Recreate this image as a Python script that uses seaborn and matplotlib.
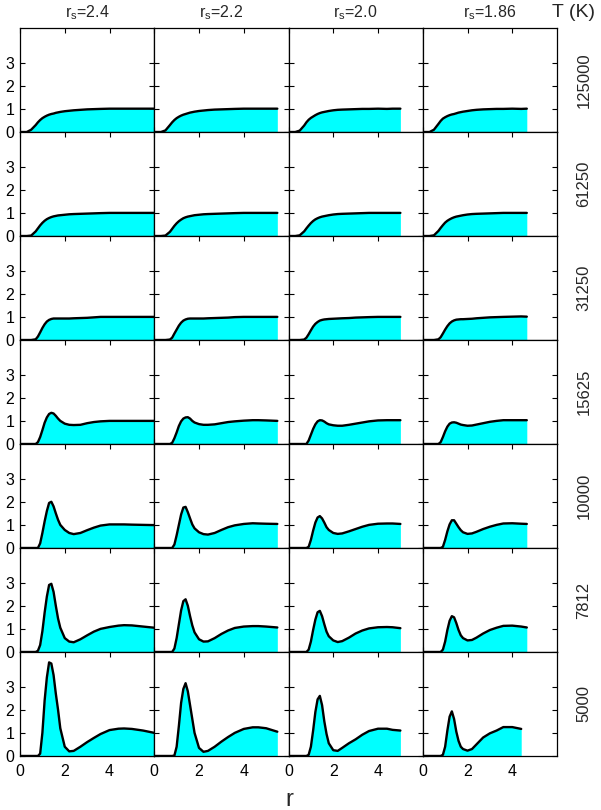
import seaborn as sns
import numpy as np
import matplotlib.pyplot as plt

# r grid shared by all panels; each panel's g(r) list is cut at its box size
r_grid = [0.0, 0.3, 0.5, 0.7, 0.8, 0.9, 1.0, 1.1, 1.2, 1.3, 1.4, 1.5, 1.6, 1.7,
          1.8, 2.0, 2.2, 2.4, 2.7, 3.0, 3.3, 3.6, 4.0, 4.4, 4.65, 5.0, 5.5, 6.0]

rs_labels = ['2.4', '2.2', '2.0', '1.86']
temps = ['125000', '61250', '31250', '15625', '10000', '7812', '5000']

g_125000 = [
    [0, 0, 0.1, 0.3, 0.42, 0.52, 0.6, 0.66, 0.71, 0.75, 0.78, 0.8, 0.83, 0.85, 0.87, 0.9, 0.92, 0.94, 0.96, 0.98, 0.99, 1.0, 1.01, 1.01, 1.01, 1.01, 1.01, 1.01],
    [0, 0, 0.07, 0.3, 0.42, 0.52, 0.6, 0.66, 0.71, 0.75, 0.78, 0.81, 0.84, 0.86, 0.88, 0.91, 0.93, 0.95, 0.97, 0.98, 0.99, 1.0, 1.01, 1.01, 1.01, 1.01, 1.01],
    [0, 0, 0.06, 0.28, 0.42, 0.53, 0.61, 0.67, 0.73, 0.78, 0.82, 0.85, 0.87, 0.89, 0.91, 0.94, 0.96, 0.97, 0.98, 0.99, 1.0, 1.0, 1.01, 1.0, 1.01, 1.01],
    [0, 0, 0.1, 0.35, 0.48, 0.58, 0.64, 0.69, 0.73, 0.76, 0.78, 0.81, 0.84, 0.86, 0.88, 0.91, 0.94, 0.96, 0.98, 0.99, 1.0, 1.0, 1.01, 1.0, 1.01],
]
g_61250 = [
    [0, 0, 0.02, 0.2, 0.33, 0.46, 0.57, 0.66, 0.73, 0.78, 0.82, 0.85, 0.87, 0.89, 0.9, 0.92, 0.94, 0.95, 0.96, 0.97, 0.98, 0.99, 1.0, 1.0, 1.0, 1.0, 1.0, 1.0],
    [0, 0, 0.02, 0.18, 0.31, 0.44, 0.55, 0.64, 0.71, 0.77, 0.81, 0.84, 0.86, 0.88, 0.9, 0.92, 0.94, 0.95, 0.96, 0.97, 0.98, 0.99, 1.0, 1.0, 1.0, 1.0, 1.0],
    [0, 0, 0.03, 0.2, 0.33, 0.45, 0.56, 0.65, 0.72, 0.77, 0.81, 0.84, 0.86, 0.88, 0.9, 0.93, 0.95, 0.96, 0.97, 0.98, 0.99, 1.0, 1.0, 1.0, 1.0, 1.0],
    [0, 0, 0.03, 0.22, 0.35, 0.47, 0.58, 0.66, 0.72, 0.77, 0.81, 0.84, 0.86, 0.88, 0.9, 0.93, 0.95, 0.96, 0.97, 0.98, 0.99, 1.0, 1.0, 1.0, 1.0],
]
g_31250 = [
    [0, 0, 0, 0.03, 0.15, 0.33, 0.52, 0.68, 0.8, 0.87, 0.91, 0.93, 0.93, 0.93, 0.93, 0.93, 0.93, 0.94, 0.95, 0.96, 0.98, 1.0, 1.0, 1.0, 1.0, 1.0, 1.0, 1.0],
    [0, 0, 0, 0.02, 0.1, 0.28, 0.45, 0.62, 0.75, 0.84, 0.89, 0.92, 0.93, 0.93, 0.93, 0.93, 0.93, 0.94, 0.95, 0.96, 0.97, 0.99, 1.0, 1.0, 1.0, 1.0, 1.0],
    [0, 0, 0, 0.02, 0.1, 0.25, 0.42, 0.58, 0.7, 0.78, 0.84, 0.87, 0.89, 0.9, 0.91, 0.92, 0.93, 0.94, 0.95, 0.97, 0.98, 0.99, 1.0, 1.0, 1.0, 1.0],
    [0, 0, 0, 0.03, 0.12, 0.28, 0.45, 0.6, 0.72, 0.8, 0.85, 0.88, 0.89, 0.9, 0.9, 0.91, 0.92, 0.94, 0.96, 0.98, 0.99, 1.0, 1.01, 1.02, 1.01],
]
g_15625 = [
    [0, 0, 0, 0, 0.08, 0.3, 0.6, 0.92, 1.15, 1.3, 1.35, 1.32, 1.22, 1.1, 1.0, 0.88, 0.83, 0.82, 0.83, 0.9, 0.95, 0.98, 1.0, 1.0, 1.0, 1.0, 1.0, 1.0],
    [0, 0, 0, 0, 0.05, 0.25, 0.5, 0.78, 0.98, 1.1, 1.15, 1.16, 1.1, 1.0, 0.93, 0.86, 0.83, 0.83, 0.85, 0.9, 0.95, 0.98, 1.01, 1.03, 1.03, 1.02, 1.0],
    [0, 0, 0, 0, 0, 0.15, 0.4, 0.65, 0.85, 0.98, 1.03, 1.02, 0.97, 0.9, 0.85, 0.81, 0.79, 0.79, 0.83, 0.88, 0.93, 0.98, 1.02, 1.03, 1.03, 1.03],
    [0, 0, 0, 0, 0.08, 0.3, 0.55, 0.75, 0.88, 0.93, 0.94, 0.92, 0.88, 0.84, 0.82, 0.79, 0.8, 0.84, 0.9, 0.96, 1.0, 1.03, 1.03, 1.03, 1.03],
]
g_10000 = [
    [0, 0, 0, 0, 0, 0.2, 0.65, 1.15, 1.6, 1.95, 2.0, 1.8, 1.5, 1.22, 1.0, 0.78, 0.65, 0.6, 0.65, 0.77, 0.88, 0.97, 1.02, 1.02, 1.02, 1.01, 1.0, 0.99],
    [0, 0, 0, 0, 0, 0.15, 0.55, 1.0, 1.45, 1.75, 1.78, 1.55, 1.28, 1.02, 0.85, 0.68, 0.6, 0.58, 0.65, 0.78, 0.9, 0.98, 1.04, 1.07, 1.06, 1.05, 1.04],
    [0, 0, 0, 0, 0, 0.05, 0.35, 0.75, 1.1, 1.32, 1.38, 1.28, 1.1, 0.9, 0.78, 0.65, 0.61, 0.63, 0.72, 0.82, 0.92, 1.0, 1.05, 1.06, 1.06, 1.04],
    [0, 0, 0, 0, 0, 0.05, 0.35, 0.72, 1.02, 1.2, 1.2, 1.05, 0.9, 0.77, 0.68, 0.61, 0.63, 0.7, 0.82, 0.92, 1.0, 1.06, 1.07, 1.05, 1.04],
]
g_7812 = [
    [0, 0, 0, 0, 0.05, 0.3, 0.9, 1.7, 2.4, 2.9, 2.95, 2.6, 2.0, 1.45, 1.05, 0.6, 0.45, 0.42, 0.55, 0.72, 0.88, 1.0, 1.08, 1.14, 1.16, 1.15, 1.1, 1.05],
    [0, 0, 0, 0, 0, 0.15, 0.6, 1.2, 1.8, 2.2, 2.28, 2.0, 1.55, 1.15, 0.85, 0.55, 0.45, 0.46, 0.6, 0.78, 0.93, 1.04, 1.1, 1.12, 1.12, 1.1, 1.06],
    [0, 0, 0, 0, 0, 0.1, 0.45, 0.95, 1.4, 1.72, 1.78, 1.55, 1.2, 0.88, 0.68, 0.5, 0.43, 0.47, 0.62, 0.8, 0.93, 1.02, 1.07, 1.08, 1.07, 1.03],
    [0, 0, 0, 0, 0, 0.1, 0.45, 0.95, 1.35, 1.55, 1.5, 1.25, 0.95, 0.72, 0.6, 0.5, 0.52, 0.62, 0.8, 0.95, 1.05, 1.13, 1.14, 1.1, 1.06],
]
g_5000 = [
    [0, 0, 0, 0, 0, 0.1, 1.0, 2.4, 3.4, 4.05, 4.0, 3.5, 2.7, 2.0, 1.2, 0.4, 0.2, 0.22, 0.4, 0.6, 0.78, 0.95, 1.12, 1.18, 1.19, 1.17, 1.1, 1.0],
    [0, 0, 0, 0, 0, 0.02, 0.4, 1.3, 2.3, 2.9, 3.15, 2.8, 2.2, 1.6, 1.0, 0.35, 0.18, 0.22, 0.4, 0.62, 0.82, 1.0, 1.17, 1.24, 1.24, 1.2, 1.05],
    [0, 0, 0, 0, 0, 0.05, 0.4, 1.1, 1.9, 2.45, 2.6, 2.2, 1.5, 0.95, 0.55, 0.25, 0.22, 0.35, 0.55, 0.72, 0.92, 1.08, 1.18, 1.18, 1.13, 1.1],
    [0, 0, 0, 0, 0, 0.05, 0.4, 1.1, 1.7, 1.93, 1.6, 1.05, 0.65, 0.4, 0.3, 0.23, 0.3, 0.5, 0.8, 0.98, 1.1, 1.25, 1.25, 1.17],
]

g_rows = [g_125000, g_61250, g_31250, g_15625, g_10000, g_7812, g_5000]

sns.set_style('ticks', {'xtick.direction': 'in', 'ytick.direction': 'in'})
plt.rcParams['font.family'] = ['Liberation Sans', 'DejaVu Sans']

fig, axes = plt.subplots(7, 4, figsize=(6.01, 8.10), dpi=100, sharex=True, sharey=True)
fig.subplots_adjust(left=0.0333, right=0.9268, top=0.9654, bottom=0.0667,
                    wspace=0, hspace=0)

for i, row in enumerate(g_rows):
    for j, g in enumerate(row):
        ax = axes[i, j]
        r = np.array(r_grid[:len(g)])
        g = np.array(g)
        ax.fill_between(r, 0, g, color='#00ffff', lw=0)
        sns.lineplot(x=r, y=g, ax=ax, color='black', lw=1.7)
        ax.set_xlim(0, 6)
        ax.set_ylim(0, 4.5)
        ax.set_xticks([0, 2, 4])
        ax.set_yticks([0, 1, 2, 3])
        ax.tick_params(which='both', direction='in', top=True, right=True,
                       length=3.5, width=0.8, color='black', labelsize=11.5,
                       labelcolor='black')
        ax.tick_params(axis='x', pad=6)
        ax.tick_params(axis='y', pad=4)
        for s in ax.spines.values():
            s.set_color('black')
            s.set_linewidth(0.9)
        ax.set_xlabel('')
        ax.set_ylabel('')
        if i == 0:
            ax.set_title(r'r$_{\mathregular{s}}$=' + rs_labels[j], fontsize=11.5, pad=8)
        if j == 3:
            ax.text(1.2, 0.5, temps[i], transform=ax.transAxes, rotation=90,
                    ha='center', va='center', fontsize=12)

fig.text(0.955, 0.985, 'T (K)', ha='center', va='center', fontsize=14)
fig.text(0.482, 0.012, 'r', ha='center', va='center', fontsize=17)

plt.savefig('out.png', dpi=100)
